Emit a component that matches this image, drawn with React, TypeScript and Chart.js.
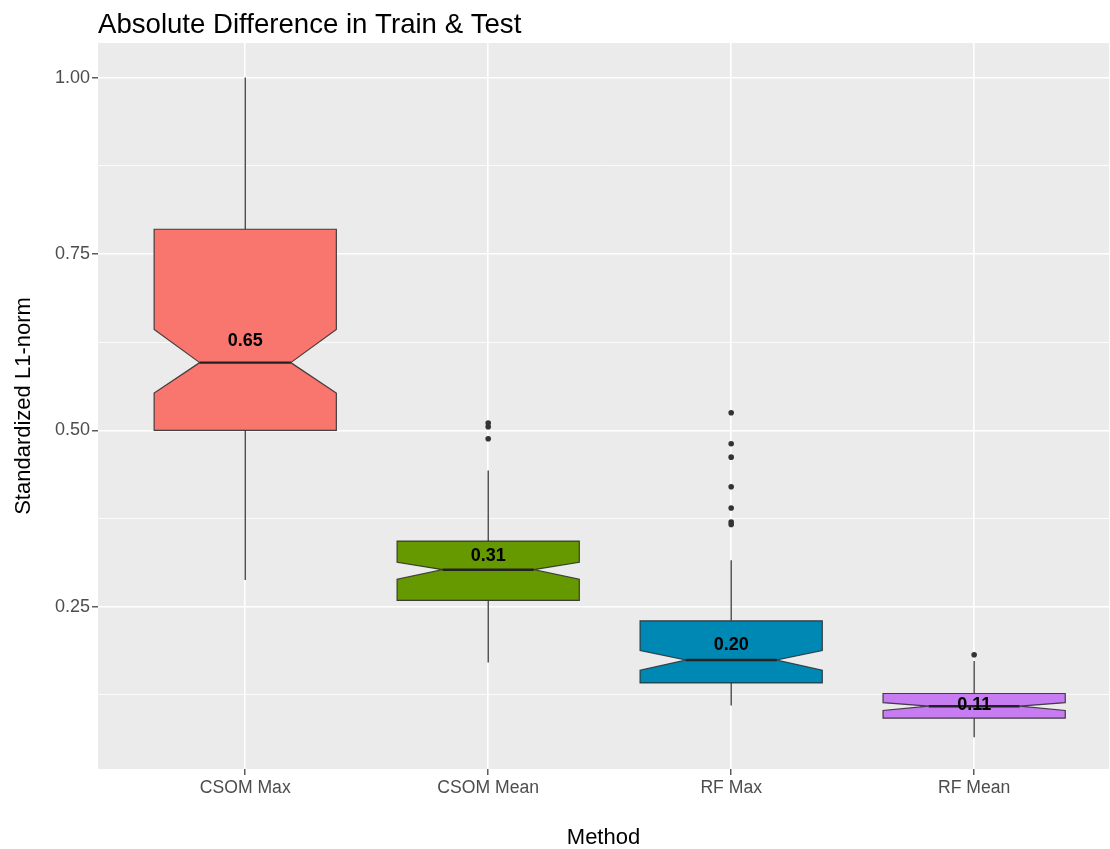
import React, { useEffect, useRef } from "react";
import { Chart, registerables } from "chart.js";

Chart.register(...registerables);

const chartTitle = "Absolute Difference in Train & Test";
const xTitle = "Method";
const yTitle = "Standardized L1-norm";

const categories = ["CSOM Max", "CSOM Mean", "RF Max", "RF Mean"];
const fillColors = ["#F8766D", "#669900", "#0088B4", "#C77CF2"];

const whiskerLow = [0.288, 0.171, 0.11, 0.065];
const q1 = [0.5, 0.259, 0.142, 0.092];
const notchLow = [0.553, 0.289, 0.16, 0.103];
const medians = [0.596, 0.3025, 0.1745, 0.109];
const notchHigh = [0.643, 0.313, 0.188, 0.114];
const q3 = [0.785, 0.343, 0.23, 0.127];
const whiskerHigh = [1.0, 0.443, 0.316, 0.173];

const outliersCsomMax: number[] = [];
const outliersCsomMean = [0.5105, 0.505, 0.488];
const outliersRfMax = [0.525, 0.481, 0.462, 0.42, 0.39, 0.37, 0.3665];
const outliersRfMean = [0.182];
const outliers = [outliersCsomMax, outliersCsomMean, outliersRfMax, outliersRfMean];

const meanLabels = ["0.65", "0.31", "0.20", "0.11"];
const meanLabelY = [0.627, 0.322, 0.195, 0.111];

const yMajorTicks = [0.25, 0.5, 0.75, 1.0];
const yMinorTicks = [0.125, 0.375, 0.625, 0.875];
const yTickLabels = ["0.25", "0.50", "0.75", "1.00"];

const FONT = "'Liberation Sans', Arial, sans-serif";
const BOX_HALF = 0.375;
const NOTCH_HALF = 0.1875;

const boxPlugin = {
  id: "boxes",
  beforeDraw(chart: any) {
    const { ctx, chartArea } = chart;
    ctx.save();
    ctx.fillStyle = "#EBEBEB";
    ctx.fillRect(chartArea.left, chartArea.top, chartArea.right - chartArea.left, chartArea.bottom - chartArea.top);
    ctx.restore();
  },
  beforeDatasetsDraw(chart: any) {
    const { ctx } = chart;
    const xs = chart.scales.x;
    const ys = chart.scales.y;
    ctx.save();
    categories.forEach((_, i) => {
      const c = i + 1;
      const xc = xs.getPixelForValue(c);
      const xl = xs.getPixelForValue(c - BOX_HALF);
      const xr = xs.getPixelForValue(c + BOX_HALF);
      const nl = xs.getPixelForValue(c - NOTCH_HALF);
      const nr = xs.getPixelForValue(c + NOTCH_HALF);
      const y = (v: number) => ys.getPixelForValue(v);
      ctx.strokeStyle = "#3a3a3a";
      ctx.lineWidth = 1.3;
      ctx.beginPath();
      ctx.moveTo(xc, y(q3[i]));
      ctx.lineTo(xc, y(whiskerHigh[i]));
      ctx.moveTo(xc, y(q1[i]));
      ctx.lineTo(xc, y(whiskerLow[i]));
      ctx.stroke();
      ctx.beginPath();
      ctx.moveTo(xl, y(q3[i]));
      ctx.lineTo(xl, y(notchHigh[i]));
      ctx.lineTo(nl, y(medians[i]));
      ctx.lineTo(xl, y(notchLow[i]));
      ctx.lineTo(xl, y(q1[i]));
      ctx.lineTo(xr, y(q1[i]));
      ctx.lineTo(xr, y(notchLow[i]));
      ctx.lineTo(nr, y(medians[i]));
      ctx.lineTo(xr, y(notchHigh[i]));
      ctx.lineTo(xr, y(q3[i]));
      ctx.closePath();
      ctx.fillStyle = fillColors[i];
      ctx.fill();
      ctx.strokeStyle = "rgba(40,40,40,0.85)";
      ctx.lineWidth = 1.2;
      ctx.stroke();
      ctx.beginPath();
      ctx.strokeStyle = "#222222";
      ctx.lineWidth = 2.4;
      ctx.moveTo(nl, y(medians[i]));
      ctx.lineTo(nr, y(medians[i]));
      ctx.stroke();
    });
    ctx.restore();
  },
  afterDatasetsDraw(chart: any) {
    const { ctx } = chart;
    const xs = chart.scales.x;
    const ys = chart.scales.y;
    ctx.save();
    ctx.font = `bold 18px ${FONT}`;
    ctx.fillStyle = "#000000";
    ctx.textAlign = "center";
    ctx.textBaseline = "middle";
    categories.forEach((_, i) => {
      ctx.fillText(meanLabels[i], xs.getPixelForValue(i + 1), ys.getPixelForValue(meanLabelY[i]));
    });
    ctx.restore();
  },
  afterDraw(chart: any) {
    const { ctx, chartArea } = chart;
    ctx.save();
    ctx.fillStyle = "#000000";
    ctx.font = `27.6px ${FONT}`;
    ctx.textAlign = "left";
    ctx.textBaseline = "alphabetic";
    ctx.fillText(chartTitle, chartArea.left, 33);
    ctx.font = `22px ${FONT}`;
    ctx.textAlign = "center";
    ctx.textBaseline = "middle";
    ctx.fillText(xTitle, (chartArea.left + chartArea.right) / 2, 838);
    ctx.translate(24, (chartArea.top + chartArea.bottom) / 2);
    ctx.rotate(-Math.PI / 2);
    ctx.fillText(yTitle, 0, 0);
    ctx.restore();
  },
};

export default function App() {
  const ref = useRef<HTMLCanvasElement | null>(null);
  useEffect(() => {
    document.body.style.margin = "0";
    const canvas = ref.current;
    if (!canvas) return;
    const outlierPoints: { x: number; y: number }[] = [];
    outliers.forEach((arr, i) => arr.forEach((v) => outlierPoints.push({ x: i + 1, y: v })));
    const isMajor = (v: number) => yMajorTicks.some((t) => Math.abs(t - v) < 1e-6);
    const chart = new Chart(canvas, {
      type: "scatter",
      data: {
        datasets: [
          {
            label: "outliers",
            data: outlierPoints,
            backgroundColor: "#333333",
            borderColor: "#333333",
            pointRadius: 2.8,
            pointBorderWidth: 0,
          },
        ],
      },
      options: {
        animation: false,
        responsive: false,
        devicePixelRatio: 1,
        layout: { autoPadding: false, padding: { top: 43, right: 1, left: 0, bottom: 0 } },
        plugins: { legend: { display: false }, title: { display: false }, tooltip: { enabled: false } },
        scales: {
          x: {
            type: "linear",
            min: 0.394,
            max: 4.555,
            bounds: "data",
            afterBuildTicks: (axis: any) => {
              axis.ticks = categories.map((_, i) => ({ value: i + 1 }));
            },
            afterFit: (axis: any) => {
              axis.height = 80;
              axis.paddingLeft = 0;
              axis.paddingRight = 0;
            },
            border: { display: false },
            grid: {
              color: "#FFFFFF",
              lineWidth: 1.6,
              drawTicks: true,
              tickLength: 6,
              tickColor: "#333333",
              tickWidth: 1.2,
            },
            ticks: {
              autoSkip: false,
              maxRotation: 0,
              minRotation: 0,
              padding: 3,
              color: "#4D4D4D",
              font: { family: FONT, size: 17.6 },
              callback: (_v: any, index: number) => categories[index],
            },
          },
          y: {
            type: "linear",
            min: 0.02,
            max: 1.049,
            bounds: "data",
            afterBuildTicks: (axis: any) => {
              axis.ticks = [...yMinorTicks, ...yMajorTicks].sort((a, b) => a - b).map((v) => ({ value: v }));
            },
            afterFit: (axis: any) => {
              axis.width = 98;
              axis.paddingTop = 0;
              axis.paddingBottom = 0;
            },
            border: { display: false },
            grid: {
              color: "#FFFFFF",
              lineWidth: (ctx: any) => (isMajor(ctx.tick?.value) ? 1.6 : 0.8),
              drawTicks: true,
              tickLength: 6,
              tickColor: (ctx: any) => (isMajor(ctx.tick?.value) ? "#333333" : "rgba(0,0,0,0)"),
              tickWidth: 1.2,
            },
            ticks: {
              autoSkip: false,
              padding: 2,
              color: "#4D4D4D",
              font: { family: FONT, size: 18 },
              callback: (v: any) => {
                const k = yMajorTicks.findIndex((t) => Math.abs(t - v) < 1e-6);
                return k >= 0 ? yTickLabels[k] : "";
              },
            },
          },
        },
      },
      plugins: [boxPlugin],
    } as any);
    return () => chart.destroy();
  }, []);
  return (
    <div style={{ position: "absolute", left: 0, top: 0, width: 1110, height: 849 }}>
      <canvas ref={ref} width={1110} height={849} style={{ display: "block", width: 1110, height: 849 }} />
    </div>
  );
}
